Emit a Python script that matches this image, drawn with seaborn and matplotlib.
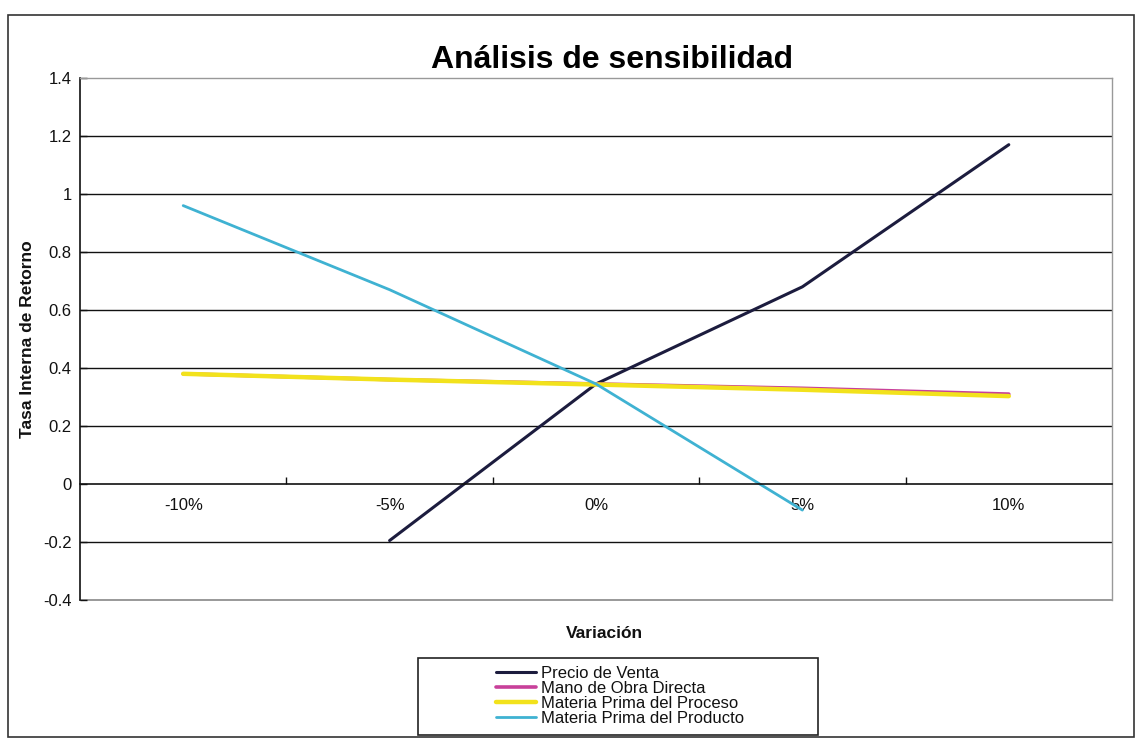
import numpy as np
import pandas as pd
import matplotlib
matplotlib.use("Agg")
import matplotlib.pyplot as plt
import seaborn as sns
from matplotlib.patches import Rectangle
from matplotlib.lines import Line2D

categories = ["-10%", "-5%", "0%", "5%", "10%"]
precio_venta = [np.nan, -0.195, 0.345, 0.68, 1.17]
mano_obra = [0.38, 0.36, 0.345, 0.33, 0.31]
mp_proceso = [0.38, 0.36, 0.343, 0.325, 0.303]
mp_producto = [0.96, 0.67, 0.345, -0.09, np.nan]
series_names = ["Precio de Venta", "Mano de Obra Directa",
                "Materia Prima del Proceso", "Materia Prima del Producto"]
y_ticks = [-0.4, -0.2, 0, 0.2, 0.4, 0.6, 0.8, 1, 1.2, 1.4]
y_tick_labels = ["-0.4", "-0.2", "0", "0.2", "0.4", "0.6", "0.8", "1", "1.2", "1.4"]

colors = ["#1c1c3e", "#c8409a", "#f2e21c", "#3fb2d2"]
widths = [2.2, 2.6, 3.2, 2.0]

rows = []
for name, vals in zip(series_names, [precio_venta, mano_obra, mp_proceso, mp_producto]):
    for i, v in enumerate(vals):
        if not np.isnan(v):
            rows.append({"pos": i, "val": v, "serie": name})
df = pd.DataFrame(rows)

sns.set_theme(style="white")
plt.rcParams['font.family'] = ['Liberation Sans', 'DejaVu Sans']
plt.rcParams['text.color'] = '#111111'
plt.rcParams['axes.labelcolor'] = '#111111'
plt.rcParams['xtick.color'] = '#111111'
plt.rcParams['ytick.color'] = '#111111'

fig = plt.figure(figsize=(11.38, 7.39), dpi=100)
ax = fig.add_axes([80/1138, 1 - 600/739, (1112-80)/1138, (600-78)/739])

for name, c, w in zip(series_names, colors, widths):
    sub = df[df["serie"] == name]
    sns.lineplot(data=sub, x="pos", y="val", ax=ax, color=c, linewidth=w,
                 legend=False, sort=False)

ax.set_xlim(-0.5, 4.5)
ax.set_ylim(-0.4, 1.4)
ax.set_yticks(y_ticks)
ax.set_yticklabels(y_tick_labels, fontsize=12)
for y in y_ticks:
    if y not in (-0.4, 1.4, 0):
        ax.axhline(y, color="#111111", linewidth=1.0, zorder=0)
ax.axhline(-0.4, color="#888888", linewidth=1.2, zorder=0, clip_on=False)

for s in ["top", "right"]:
    ax.spines[s].set_color("#999999")
    ax.spines[s].set_linewidth(1.0)
ax.spines["left"].set_color("#111111")
ax.spines["left"].set_linewidth(1.2)
ax.spines["bottom"].set_position(("data", 0))
ax.spines["bottom"].set_color("#111111")
ax.spines["bottom"].set_linewidth(1.2)

ax.set_xticks(range(len(categories)))
ax.set_xticklabels(categories, fontsize=12)
ax.set_xticks([0.5, 1.5, 2.5, 3.5], minor=True)
ax.tick_params(axis="x", which="major", length=0, pad=10)
ax.tick_params(axis="x", which="minor", length=5, direction="in", color="#111111", width=1)
ax.tick_params(axis="y", which="major", length=5, direction="in", color="#111111", width=1, pad=6)
ax.tick_params(axis="y", left=True)
ax.tick_params(axis="x", which="minor", bottom=True)

ax.set_xlabel("")
ax.set_ylabel("Tasa Interna de Retorno", fontsize=12.5, fontweight="bold", labelpad=6)
fig.text(604/1138, 1 - 633/739, "Variación", ha="center", va="center",
         fontsize=12.5, fontweight="bold")
fig.text(612/1138, 1 - 60/739, "Análisis de sensibilidad", ha="center", va="center",
         fontsize=23, fontweight="bold", color="black")

handles = [Line2D([0], [0], color=c, linewidth=w) for c, w in zip(colors, widths)]
leg = fig.legend(handles, series_names, loc="upper left",
                 bbox_to_anchor=(488/1138, 1 - 658/739), fontsize=12,
                 frameon=False, handlelength=2.4, handletextpad=0.3,
                 labelspacing=0.0, borderpad=0.0)

fig.patches.append(Rectangle((418/1138, 1 - 735/739), 400/1138, 77/739, transform=fig.transFigure,
                             fill=False, edgecolor="#222222", linewidth=1.2))
fig.patches.append(Rectangle((8/1138, 2/739), 1126/1138, 722/739, transform=fig.transFigure,
                             fill=False, edgecolor="#333333", linewidth=1.2))

fig.savefig("out.png", dpi=100, facecolor="white")
